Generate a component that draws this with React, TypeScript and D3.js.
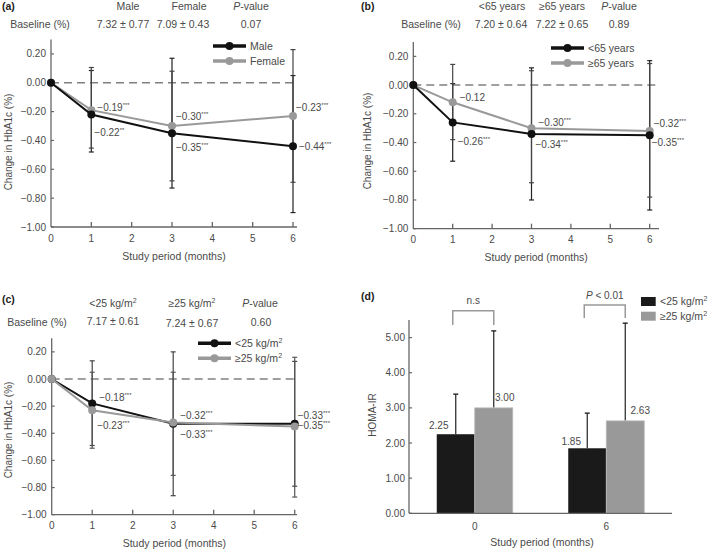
import React from "react";
import * as d3 from "d3";

const FONT = "'Liberation Sans', Arial, sans-serif";
const TXT = "#4a4a4a";
const AXIS = "#666";

// ---------- data ----------
const months = [0, 1, 3, 6];
const xTickValues = [0, 1, 2, 3, 4, 5, 6];
const yTickValues = [0.2, 0, -0.2, -0.4, -0.6, -0.8, -1.0];

// Panel (a)
const headerA = ["Male", "Female", "P-value"];
const baselineA = ["7.32 ± 0.77", "7.09 ± 0.43", "0.07"];
const maleA = [0, -0.22, -0.35, -0.44];
const maleALow = [0, -0.48, -0.73, -0.9];
const maleAHigh = [0, 0.085, 0.17, 0.05];
const maleAStars = ["", "**", "***", "***"];
const femaleA = [0, -0.19, -0.3, -0.23];
const femaleALow = [0, -0.453, -0.68, -0.69];
const femaleAHigh = [0, 0.106, 0.08, 0.23];
const femaleAStars = ["", "***", "***", "***"];

// Panel (b)
const headerB = ["<65 years", "≥65 years", "P-value"];
const baselineB = ["7.20 ± 0.64", "7.22 ± 0.65", "0.89"];
const youngB = [0, -0.26, -0.34, -0.35];
const youngBLow = [0, -0.53, -0.8, -0.87];
const youngBHigh = [0, 0.01, 0.12, 0.17];
const youngBStars = ["", "***", "***", "***"];
const oldB = [0, -0.12, -0.3, -0.32];
const oldBLow = [0, -0.38, -0.68, -0.78];
const oldBHigh = [0, 0.144, 0.1, 0.15];
const oldBStars = ["", "", "***", "***"];

// Panel (c)
const headerC = ["<25 kg/m", "≥25 kg/m", "P-value"];
const baselineC = ["7.17 ± 0.61", "7.24 ± 0.67", "0.60"];
const lowBmiC = [0, -0.18, -0.33, -0.33];
const lowBmiCLow = [0, -0.49, -0.86, -0.79];
const lowBmiCHigh = [0, 0.134, 0.2, 0.13];
const lowBmiCStars = ["", "***", "***", "***"];
const highBmiC = [0, -0.23, -0.32, -0.35];
const highBmiCLow = [0, -0.51, -0.71, -0.87];
const highBmiCHigh = [0, 0.05, 0.05, 0.16];
const highBmiCStars = ["", "***", "***", "***"];

// Panel (d)
const homaCategories = ["0", "6"];
const homaLow = [2.25, 1.85];
const homaLowErr = [3.39, 2.85];
const homaHigh = [3.0, 2.63];
const homaHighErr = [5.19, 5.41];
const homaSig = ["n.s", "P < 0.01"];
const homaTicks = [0, 1, 2, 3, 4, 5];
const legendD = ["<25 kg/m", "≥25 kg/m"];

const fmt = d3.format(".2f");

type Series = {
  name: string;
  sup?: boolean;
  values: number[];
  low: number[];
  high: number[];
  stars: string[];
  color: string;
  err: string;
  offsets: [number, number][];
};

type Cfg = {
  x0: number;
  x6: number;
  xEnd: number;
  yTop: number;
  yBottom: number;
  series: Series[];
  grayOnTop?: boolean;
  legendX: number;
  legendY: number;
  yLabelX: number;
  yLabelY: number;
};

function ValueLabel({ x, y, v, stars }: { x: number; y: number; v: number; stars: string }) {
  return (
    <text x={x} y={y} dy="0.35em" fontSize={10} fill={TXT}>
      {fmt(v)}
      {stars && (
        <tspan fontSize={6} dy={-4}>
          {stars}
        </tspan>
      )}
    </text>
  );
}

function LinePanel({ cfg }: { cfg: Cfg }) {
  const xs = d3.scaleLinear().domain([0, 6]).range([cfg.x0, cfg.x6]);
  const ys = d3.scaleLinear().domain([-1, 0.3]).range([cfg.yBottom, cfg.yTop]);
  const line = d3
    .line<number>()
    .x((_, i) => xs(months[i]))
    .y((d) => ys(d));
  const drawOrder = cfg.grayOnTop ? cfg.series : [...cfg.series].reverse();
  return (
    <g fontFamily={FONT}>
      <line x1={cfg.x0} x2={cfg.xEnd} y1={ys(0)} y2={ys(0)} stroke="#808080" strokeWidth={1.5} strokeDasharray="8,5" />
      <line x1={cfg.x0} x2={cfg.x0} y1={cfg.yTop} y2={cfg.yBottom} stroke={AXIS} strokeWidth={1.3} />
      <line x1={cfg.x0} x2={cfg.xEnd} y1={cfg.yBottom} y2={cfg.yBottom} stroke={AXIS} strokeWidth={1.3} />
      {yTickValues.map((t) => (
        <g key={t}>
          <line x1={cfg.x0} x2={cfg.x0 + 3} y1={ys(t)} y2={ys(t)} stroke={AXIS} strokeWidth={1.2} />
          <text x={cfg.x0 - 5} y={ys(t)} dy="0.35em" textAnchor="end" fontSize={10} fill={TXT}>
            {fmt(t)}
          </text>
        </g>
      ))}
      {xTickValues.map((t) => (
        <g key={t}>
          {t > 0 && <line x1={xs(t)} x2={xs(t)} y1={cfg.yBottom} y2={cfg.yBottom - 5} stroke={AXIS} strokeWidth={1.3} />}
          <text x={xs(t)} y={cfg.yBottom + 11} dy="0.35em" textAnchor="middle" fontSize={10} fill={TXT}>
            {t}
          </text>
        </g>
      ))}
      <text x={(cfg.x0 + cfg.xEnd) / 2} y={cfg.yBottom + 29} dy="0.35em" textAnchor="middle" fontSize={10.5} fill={TXT}>
        Study period (months)
      </text>
      <text
        transform={`translate(${cfg.yLabelX},${cfg.yLabelY}) rotate(-90)`}
        dy="0.35em"
        textAnchor="middle"
        fontSize={10}
        fill={TXT}
      >
        Change in HbA1c (%)
      </text>
      {cfg.series.map((s, si) =>
        months.map((m, i) =>
          i === 0 ? null : (
            <g key={`e${si}-${i}`} stroke={s.err} strokeWidth={1.2}>
              <line x1={xs(m)} x2={xs(m)} y1={ys(s.low[i])} y2={ys(s.high[i])} />
              <line x1={xs(m) - 2.5} x2={xs(m) + 2.5} y1={ys(s.low[i])} y2={ys(s.low[i])} />
              <line x1={xs(m) - 2.5} x2={xs(m) + 2.5} y1={ys(s.high[i])} y2={ys(s.high[i])} />
            </g>
          )
        )
      )}
      {drawOrder.map((s, si) => (
        <g key={`l${si}`}>
          <path d={line(s.values) || ""} fill="none" stroke={s.color} strokeWidth={2} />
          {s.values.map((v, i) => (
            <circle key={i} cx={xs(months[i])} cy={ys(v)} r={4} fill={s.color} />
          ))}
        </g>
      ))}
      {cfg.series.map((s, si) =>
        s.values.map((v, i) =>
          i === 0 ? null : (
            <ValueLabel key={`v${si}-${i}`} x={xs(months[i]) + s.offsets[i][0]} y={ys(v) + s.offsets[i][1]} v={v} stars={s.stars[i]} />
          )
        )
      )}
      {cfg.series.map((s, si) => {
        const y = cfg.legendY + si * 15;
        return (
          <g key={`lg${si}`}>
            <line x1={cfg.legendX} x2={cfg.legendX + 33} y1={y} y2={y} stroke={s.color} strokeWidth={3.5} />
            <circle cx={cfg.legendX + 16.5} cy={y} r={4} fill={s.color} />
            <text x={cfg.legendX + 37} y={y} dy="0.35em" fontSize={10.5} fill={TXT}>
              {s.name}
              {s.sup && (
                <tspan fontSize={7} dy={-4}>
                  2
                </tspan>
              )}
            </text>
          </g>
        );
      })}
    </g>
  );
}

function Header({
  tag,
  tagX,
  tagY,
  cols,
  colX,
  headY,
  base,
  baseX,
  baseY,
  baseLabelX,
  sup,
}: {
  tag: string;
  tagX: number;
  tagY: number;
  cols: string[];
  colX: number[];
  headY: number;
  base: string[];
  baseX: number[];
  baseY: number[];
  baseLabelX: number;
  sup?: boolean;
}) {
  return (
    <g fontFamily={FONT}>
      <text x={tagX} y={tagY} dy="0.35em" fontSize={10.5} fontWeight="bold" fill="#222">
        {tag}
      </text>
      {cols.map((c, i) => (
        <text key={i} x={colX[i]} y={headY} dy="0.35em" textAnchor="middle" fontSize={10.5} fill={TXT}>
          {i === 2 ? (
            <>
              <tspan fontStyle="italic">P</tspan>-value
            </>
          ) : (
            <>
              {c}
              {sup && (
                <tspan fontSize={7} dy={-4}>
                  2
                </tspan>
              )}
            </>
          )}
        </text>
      ))}
      <text x={baseLabelX} y={baseY[0]} dy="0.35em" textAnchor="middle" fontSize={10.5} fill={TXT}>
        Baseline (%)
      </text>
      {base.map((b, i) => (
        <text key={i} x={baseX[i]} y={baseY[i + 1]} dy="0.35em" textAnchor="middle" fontSize={10.5} fill={TXT}>
          {b}
        </text>
      ))}
    </g>
  );
}

function BarPanel() {
  const x = d3.scalePoint<string>().domain(homaCategories).range([409, 672]).padding(0.5);
  const inner = d3.scaleBand<string>().domain(["lt", "ge"]).range([-38, 38]);
  const y = d3.scaleLinear().domain([0, 5.5]).range([513.3, 320]);
  const bw = inner.bandwidth();
  const groups = homaCategories.map((c, i) => ({
    c,
    vals: [
      { k: "lt", v: homaLow[i], e: homaLowErr[i], color: "#1a1a1a" },
      { k: "ge", v: homaHigh[i], e: homaHighErr[i], color: "#999" },
    ],
  }));
  // label anchor offsets: black bar -> from left edge, gray bar -> from right edge
  const labelOffsets: [number, number][][] = [
    [[2, -9], [-8, -10]],
    [[3, -7], [-4, -10]],
  ];
  const bracketTop = [310.7, 305];
  const bracketLeg = [325, 318];
  return (
    <g fontFamily={FONT}>
      {groups.map((g, gi) =>
        g.vals.map((d, di) => {
          const x0 = (x(g.c) as number) + (inner(d.k) as number);
          const cx = x0 + bw / 2;
          return (
            <g key={`${gi}-${di}`}>
              <line x1={cx} x2={cx} y1={y(d.v)} y2={y(d.e)} stroke="#222" strokeWidth={1.2} />
              <line x1={cx - 2.5} x2={cx + 2.5} y1={y(d.e)} y2={y(d.e)} stroke="#222" strokeWidth={1.4} />
              <rect x={x0} y={y(d.v)} width={bw} height={y(0) - y(d.v)} fill={d.color} stroke={di === 1 ? "#bbb" : "none"} strokeWidth={0.8} />
              <text
                x={x0 + (di === 0 ? 0 : bw) + labelOffsets[gi][di][0]}
                y={y(d.v) + labelOffsets[gi][di][1]}
                dy="0.35em"
                textAnchor="middle"
                fontSize={10}
                fill={TXT}
              >
                {fmt(d.v)}
              </text>
            </g>
          );
        })
      )}
      {groups.map((g, gi) => {
        const l = (x(g.c) as number) + (inner("lt") as number) + bw / 2 - 3;
        const r = (x(g.c) as number) + (inner("ge") as number) + bw / 2;
        return (
          <g key={`b${gi}`}>
            <path
              d={`M${l},${bracketLeg[gi]}V${bracketTop[gi]}H${r}V${bracketLeg[gi]}`}
              fill="none"
              stroke="#999"
              strokeWidth={1.5}
            />
            <text x={(l + r) / 2} y={bracketTop[gi] - 10} dy="0.35em" textAnchor="middle" fontSize={10} fill={TXT}>
              {gi === 1 ? (
                <>
                  <tspan fontStyle="italic">P</tspan>
                  {homaSig[gi].slice(1)}
                </>
              ) : (
                homaSig[gi]
              )}
            </text>
          </g>
        );
      })}
      <line x1={409} x2={409} y1={320} y2={513.3} stroke={AXIS} strokeWidth={1.3} />
      <line x1={409} x2={672} y1={513.3} y2={513.3} stroke={AXIS} strokeWidth={1.3} />
      {homaTicks.map((t) => (
        <g key={t}>
          <line x1={409} x2={412} y1={y(t)} y2={y(t)} stroke={AXIS} strokeWidth={1.2} />
          <text x={405} y={y(t)} dy="0.35em" textAnchor="end" fontSize={10} fill={TXT}>
            {fmt(t)}
          </text>
        </g>
      ))}
      {homaCategories.map((c) => (
        <text key={c} x={x(c)} y={526} dy="0.35em" textAnchor="middle" fontSize={10} fill={TXT}>
          {c}
        </text>
      ))}
      <text x={542} y={542} dy="0.35em" textAnchor="middle" fontSize={10.5} fill={TXT}>
        Study period (months)
      </text>
      <text transform="translate(372,415) rotate(-90)" dy="0.35em" textAnchor="middle" fontSize={10} fill={TXT}>
        HOMA-IR
      </text>
      {legendD.map((l, i) => (
        <g key={l}>
          <rect x={641} y={297 + i * 14.7} width={14.7} height={9} fill={i === 0 ? "#1a1a1a" : "#999"} />
          <text x={660} y={301.5 + i * 14.7} dy="0.35em" fontSize={10.5} fill={TXT}>
            {l}
            <tspan fontSize={7} dy={-4}>
              2
            </tspan>
          </text>
        </g>
      ))}
      <text x={361} y={296} dy="0.35em" fontSize={10.5} fontWeight="bold" fill="#222">
        (d)
      </text>
    </g>
  );
}

const cfgA: Cfg = {
  x0: 51,
  x6: 293,
  xEnd: 297,
  yTop: 39.5,
  yBottom: 227,
  legendX: 213,
  legendY: 46,
  yLabelX: 8,
  yLabelY: 142,
  series: [
    { name: "Male", values: maleA, low: maleALow, high: maleAHigh, stars: maleAStars, color: "#111", err: "#222", offsets: [[0, 0], [3, 18], [4, 14], [6, 0]] },
    { name: "Female", values: femaleA, low: femaleALow, high: femaleAHigh, stars: femaleAStars, color: "#999", err: "#444", offsets: [[0, 0], [6, -3], [4, -10], [3, -8]] },
  ],
};

const cfgB: Cfg = {
  x0: 413.3,
  x6: 649.7,
  xEnd: 659,
  yTop: 42,
  yBottom: 228.7,
  legendX: 551,
  legendY: 48,
  yLabelX: 367,
  yLabelY: 141,
  series: [
    { name: "<65 years", values: youngB, low: youngBLow, high: youngBHigh, stars: youngBStars, color: "#111", err: "#222", offsets: [[0, 0], [5, 19], [4, 11], [2, 7]] },
    { name: "≥65 years", values: oldB, low: oldBLow, high: oldBHigh, stars: oldBStars, color: "#999", err: "#444", offsets: [[0, 0], [7, -5], [7, -6], [4, -8]] },
  ],
};

const cfgC: Cfg = {
  x0: 51.7,
  x6: 294.7,
  xEnd: 297,
  yTop: 338.3,
  yBottom: 514.7,
  legendX: 198,
  legendY: 343.3,
  yLabelX: 8,
  yLabelY: 430,
  grayOnTop: true,
  series: [
    { name: "<25 kg/m", sup: true, values: lowBmiC, low: lowBmiCLow, high: lowBmiCHigh, stars: lowBmiCStars, color: "#111", err: "#444", offsets: [[0, 0], [7, -6], [7, 11], [3, -8]] },
    { name: "≥25 kg/m", sup: true, values: highBmiC, low: highBmiCLow, high: highBmiCHigh, stars: highBmiCStars, color: "#999", err: "#555", offsets: [[0, 0], [5, 15], [7, -7], [3, -1]] },
  ],
};

export default function App() {
  return (
    <svg
      width={709}
      height={549}
      viewBox="0 0 709 549"
      style={{ position: "absolute", left: 0, top: 0, background: "#fff" }}
    >
      <rect width={709} height={549} fill="#fff" />
      <Header tag="(a)" tagX={2} tagY={6} cols={headerA} colX={[128, 189, 251]} headY={6} base={baselineA} baseX={[123, 183, 251]} baseY={[24, 24, 24, 24]} baseLabelX={40} />
      <LinePanel cfg={cfgA} />
      <Header tag="(b)" tagX={361} tagY={6} cols={headerB} colX={[502, 562, 619]} headY={6} base={baselineB} baseX={[501, 562, 619]} baseY={[24, 24, 24, 24]} baseLabelX={431} />
      <LinePanel cfg={cfgB} />
      <Header tag="(c)" tagX={2} tagY={299} cols={headerC} colX={[113, 192, 260]} headY={303} base={baselineC} baseX={[113, 192, 261]} baseY={[322, 321, 323, 322]} baseLabelX={37} sup />
      <LinePanel cfg={cfgC} />
      <BarPanel />
    </svg>
  );
}
